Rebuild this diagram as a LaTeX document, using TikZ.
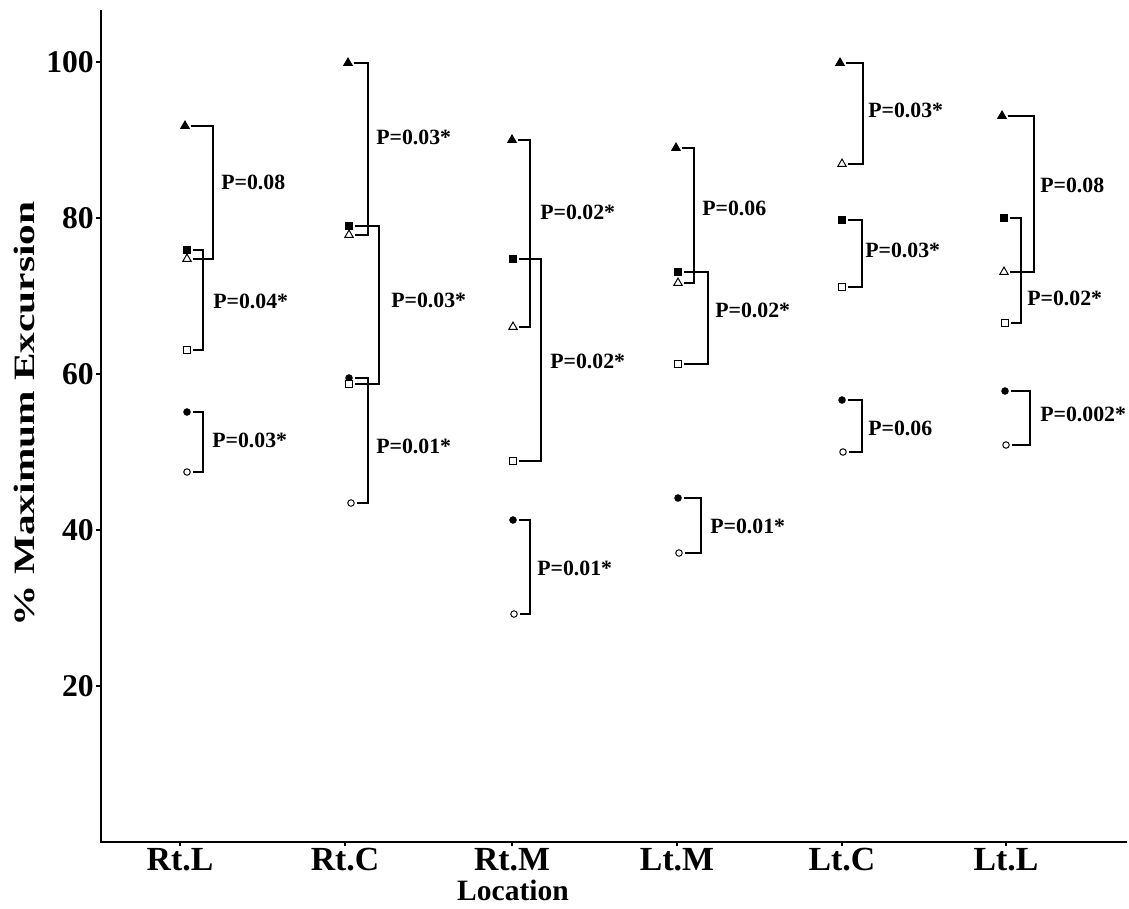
\documentclass[tikz,border=0pt]{standalone}
\usepackage{fontspec}
\setmainfont{Liberation Serif}
\usetikzlibrary{shapes.geometric}
\begin{document}
\begin{tikzpicture}[x=0.025cm,y=-0.025cm,
  mk/.style={inner sep=0pt, outer sep=0pt, draw=black, line width=0.7pt},
  ftri/.style={mk, regular polygon, regular polygon sides=3, minimum size=7pt, fill=black},
  otri/.style={mk, regular polygon, regular polygon sides=3, minimum size=7pt, fill=white},
  fsq/.style={mk, rectangle, minimum size=4.4pt, fill=black},
  osq/.style={mk, rectangle, minimum size=4.4pt, fill=white},
  fcir/.style={mk, circle, minimum size=4.6pt, fill=black},
  ocir/.style={mk, circle, minimum size=4.6pt, fill=white},
  brk/.style={line width=1.1pt},
  axisline/.style={line width=1.8pt},
  plab/.style={anchor=west, inner sep=0pt, font=\fontsize{15.5}{18}\selectfont\bfseries},
  ticklab/.style={anchor=east, inner sep=0pt, font=\fontsize{22.5}{26}\selectfont\bfseries},
  catlab/.style={anchor=center, inner sep=0pt, font=\fontsize{24}{28}\selectfont\bfseries},
  ttl/.style={anchor=center, inner sep=0pt, font=\fontsize{21}{25}\selectfont\bfseries}
]
\useasboundingbox (0,0) rectangle (1129,908);
\fill[white] (0,0) rectangle (1129,908);

% axes
\coordinate (top) at (101,10);
\coordinate (orig) at (101,842);
\coordinate (right) at (1127,842);
\draw[axisline] (top) -- (orig) -- (right);
\foreach \v/\y in {100/62,80/218,60/374,40/530,20/686}{
  \draw[line width=1pt] (101,\y) -- (96,\y);
  \node[ticklab] (t\v) at (94,\y) {\v};
}
\foreach \x in {180,345,512,677,842,1006}{
  \draw[line width=1pt] (\x,842) -- (\x,846);
}

% axis titles
\node[rotate=90, anchor=center, inner sep=0pt] (ylab) at (24,414)
  {\scalebox{1.4}[1]{\fontsize{21}{24}\selectfont\bfseries \% Maximum Excursion}};
\node[ttl] (xlab) at (513,890) {Location};

% category labels
\node[catlab] (c1) at (180,860) {Rt.L};
\node[catlab] (c2) at (345,860) {Rt.C};
\node[catlab] (c3) at (512,860) {Rt.M};
\node[catlab] (c4) at (677,860) {Lt.M};
\node[catlab] (c5) at (842,860) {Lt.C};
\node[catlab] (c6) at (1006,860) {Lt.L};

% ---------- Rt.L ----------
\node[ftri] (rl1) at (185,126) {};
\node[fsq]  (rl2) at (187,250) {};
\node[otri] (rl3) at (187,259) {};
\node[osq]  (rl4) at (187,350) {};
\node[fcir] (rl5) at (187,412) {};
\node[ocir] (rl6) at (187,472) {};
\coordinate (srl1) at (213,0);
\coordinate (srl2) at (203,0);
\coordinate (srl3) at (203,0);
\draw[brk] ([xshift=2pt]rl1.east) -- (rl1.east -| srl1) -- (rl3.east -| srl1) -- ([xshift=2pt]rl3.east);
\draw[brk] ([xshift=2pt]rl2.east) -- (rl2.east -| srl2) -- (rl4.east -| srl2) -- ([xshift=2pt]rl4.east);
\draw[brk] ([xshift=2pt]rl5.east) -- (rl5.east -| srl3) -- (rl6.east -| srl3) -- ([xshift=2pt]rl6.east);
\node[plab] (prl1) at (221,182) {P=0.08};
\node[plab] (prl2) at (213,301) {P=0.04*};
\node[plab] (prl3) at (212,440) {P=0.03*};

% ---------- Rt.C ----------
\node[ftri] (rc1) at (348,63) {};
\node[fsq]  (rc2) at (349,226) {};
\node[otri] (rc3) at (349,235) {};
\node[fcir] (rc5) at (349,378) {};
\node[osq]  (rc4) at (349,384) {};
\node[ocir] (rc6) at (351,503) {};
\coordinate (src1) at (368,0);
\coordinate (src2) at (379,0);
\coordinate (src3) at (368,0);
\draw[brk] ([xshift=2pt]rc1.east) -- (rc1.east -| src1) -- (rc3.east -| src1) -- ([xshift=2pt]rc3.east);
\draw[brk] ([xshift=2pt]rc2.east) -- (rc2.east -| src2) -- (rc4.east -| src2) -- ([xshift=2pt]rc4.east);
\draw[brk] ([xshift=2pt]rc5.east) -- (rc5.east -| src3) -- (rc6.east -| src3) -- ([xshift=2pt]rc6.east);
\node[plab] (prc1) at (376,137) {P=0.03*};
\node[plab] (prc2) at (391,300) {P=0.03*};
\node[plab] (prc3) at (376,446) {P=0.01*};

% ---------- Rt.M ----------
\node[ftri] (rm1) at (512,140) {};
\node[fsq]  (rm2) at (513,259) {};
\node[otri] (rm3) at (513,327) {};
\node[osq]  (rm4) at (513,461) {};
\node[fcir] (rm5) at (513,520) {};
\node[ocir] (rm6) at (514,614) {};
\coordinate (srm1) at (530,0);
\coordinate (srm2) at (541,0);
\coordinate (srm3) at (530,0);
\draw[brk] ([xshift=2pt]rm1.east) -- (rm1.east -| srm1) -- (rm3.east -| srm1) -- ([xshift=2pt]rm3.east);
\draw[brk] ([xshift=2pt]rm2.east) -- (rm2.east -| srm2) -- (rm4.east -| srm2) -- ([xshift=2pt]rm4.east);
\draw[brk] ([xshift=2pt]rm5.east) -- (rm5.east -| srm3) -- (rm6.east -| srm3) -- ([xshift=2pt]rm6.east);
\node[plab] (prm1) at (540,212) {P=0.02*};
\node[plab] (prm2) at (550,361) {P=0.02*};
\node[plab] (prm3) at (537,568) {P=0.01*};

% ---------- Lt.M ----------
\node[ftri] (lm1) at (676,148) {};
\node[fsq]  (lm2) at (678,272) {};
\node[otri] (lm3) at (678,283) {};
\node[osq]  (lm4) at (678,364) {};
\node[fcir] (lm5) at (678,498) {};
\node[ocir] (lm6) at (679,553) {};
\coordinate (slm1) at (694,0);
\coordinate (slm2) at (708,0);
\coordinate (slm3) at (701,0);
\draw[brk] ([xshift=2pt]lm1.east) -- (lm1.east -| slm1) -- (lm3.east -| slm1) -- ([xshift=2pt]lm3.east);
\draw[brk] ([xshift=2pt]lm2.east) -- (lm2.east -| slm2) -- (lm4.east -| slm2) -- ([xshift=2pt]lm4.east);
\draw[brk] ([xshift=2pt]lm5.east) -- (lm5.east -| slm3) -- (lm6.east -| slm3) -- ([xshift=2pt]lm6.east);
\node[plab] (plm1) at (702,208) {P=0.06};
\node[plab] (plm2) at (715,310) {P=0.02*};
\node[plab] (plm3) at (710,526) {P=0.01*};

% ---------- Lt.C ----------
\node[ftri] (lc1) at (840,63) {};
\node[otri] (lc3) at (842,164) {};
\node[fsq]  (lc2) at (842,220) {};
\node[osq]  (lc4) at (842,287) {};
\node[fcir] (lc5) at (842,400) {};
\node[ocir] (lc6) at (843,452) {};
\coordinate (slc1) at (863,0);
\coordinate (slc2) at (862,0);
\coordinate (slc3) at (862,0);
\draw[brk] ([xshift=2pt]lc1.east) -- (lc1.east -| slc1) -- (lc3.east -| slc1) -- ([xshift=2pt]lc3.east);
\draw[brk] ([xshift=2pt]lc2.east) -- (lc2.east -| slc2) -- (lc4.east -| slc2) -- ([xshift=2pt]lc4.east);
\draw[brk] ([xshift=2pt]lc5.east) -- (lc5.east -| slc3) -- (lc6.east -| slc3) -- ([xshift=2pt]lc6.east);
\node[plab] (plc1) at (868,110) {P=0.03*};
\node[plab] (plc2) at (865,250) {P=0.03*};
\node[plab] (plc3) at (868,428) {P=0.06};

% ---------- Lt.L ----------
\node[ftri] (ll1) at (1002,116) {};
\node[fsq]  (ll2) at (1004,218) {};
\node[otri] (ll3) at (1004,272) {};
\node[osq]  (ll4) at (1005,323) {};
\node[fcir] (ll5) at (1005,391) {};
\node[ocir] (ll6) at (1006,445) {};
\coordinate (sll1) at (1034,0);
\coordinate (sll2) at (1021,0);
\coordinate (sll3) at (1030,0);
\draw[brk] ([xshift=2pt]ll1.east) -- (ll1.east -| sll1) -- (ll3.east -| sll1) -- ([xshift=2pt]ll3.east);
\draw[brk] ([xshift=2pt]ll2.east) -- (ll2.east -| sll2) -- (ll4.east -| sll2) -- ([xshift=2pt]ll4.east);
\draw[brk] ([xshift=2pt]ll5.east) -- (ll5.east -| sll3) -- (ll6.east -| sll3) -- ([xshift=2pt]ll6.east);
\node[plab] (pll1) at (1040,185) {P=0.08};
\node[plab] (pll2) at (1027,298) {P=0.02*};
\node[plab] (pll3) at (1040,414) {P=0.002*};
\end{tikzpicture}
\end{document}
